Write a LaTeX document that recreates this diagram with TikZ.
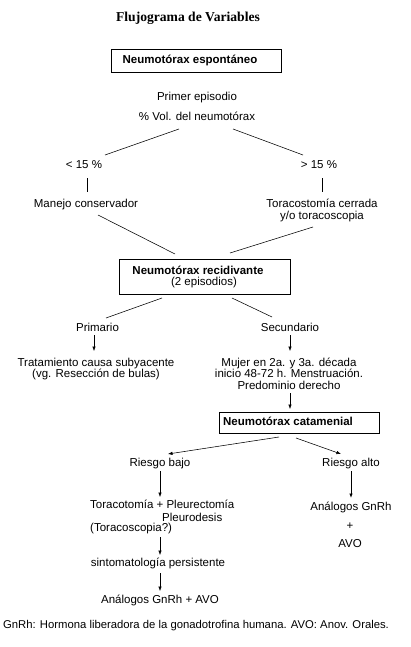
\documentclass[tikz,border=0pt]{standalone}
\usepackage{fontspec}
\setmainfont{Liberation Sans}
\newfontfamily\titlefont{Liberation Serif}
\usetikzlibrary{arrows.meta}
\begin{document}
\begin{tikzpicture}[x=1pt,y=-1pt,
  txt/.style={anchor=base,inner sep=0pt,font=\fontsize{11.5}{12.5}\selectfont,align=center},
  btxt/.style={txt,font=\fontsize{11.5}{12.5}\selectfont\bfseries},
  tight/.style={font=\fontsize{11.5}{11.5}\selectfont},
  boxr/.style={draw,line width=0.8pt},
  ln/.style={line width=0.55pt},
  arr/.style={ln,-{Latex[length=4.5pt,width=3.5pt]}}]
\fill[white] (0,0) rectangle (410,647);
\useasboundingbox (0,0) rectangle (410,647);

% title
\node[anchor=base,inner sep=0pt,font=\fontsize{13.6}{15}\selectfont\titlefont\bfseries] (title) at (188,22) {Flujograma de Variables};

% boxes
\draw[boxr] (111,49) rectangle (281,72);
\node[btxt] (ne) at (190,64) {Neumotórax espontáneo};
\draw[boxr] (119,259) rectangle (290,294);
\node[btxt] (nr) at (198,274) {Neumotórax recidivante};
\node[txt] (ep) at (204,285.5) {(2 episodios)};
\draw[boxr] (219,412) rectangle (379,433);
\node[btxt] (nc) at (288,425) {Neumotórax catamenial};

% texts
\node[txt] (pe) at (197,101) {Primer episodio};
\node[txt] (pv) at (197,121) {\% Vol. del neumotórax};
\node[txt] (lt) at (84,168) {< 15 \%};
\node[txt] (gt) at (319,168) {> 15 \%};
\node[txt] (mc) at (86,207) {Manejo conservador};
\node[txt] (tc) at (322,219.5) {Toracostomía cerrada\\y/o toracoscopia};
\node[txt] (pr) at (97.5,331) {Primario};
\node[txt] (se) at (290,331) {Secundario};
\node[txt,tight] (tr) at (96,377.5) {Tratamiento causa subyacente\\(vg. Resección de bulas)};
\node[txt,tight] (mu) at (289,389) {Mujer en 2a. y 3a. década\\inicio 48-72 h. Menstruación.\\Predominio derecho};
\node[txt] (rb) at (160,466) {Riesgo bajo};
\node[txt] (ra) at (351,466) {Riesgo alto};
\node[txt,anchor=base west] (to) at (90,508.7) {Toracotomía + Pleurectomía};
\node[txt,anchor=base west] (pl) at (162,521) {Pleurodesis};
\node[txt,anchor=base west] (tq) at (90,531.7) {(Toracoscopia?)};
\node[txt] (an) at (351,510.7) {Análogos GnRh};
\node[txt] (pl2) at (350,529.5) {+};
\node[txt] (avo) at (350,547.7) {AVO};
\node[txt] (si) at (158,566.7) {sintomatología persistente};
\node[txt] (fa) at (160,603.3) {Análogos GnRh + AVO};
\node[txt,font=\fontsize{11.3}{12.5}\selectfont] (ft) at (196,628.3) {GnRh: Hormona liberadora de la gonadotrofina humana. AVO: Anov. Orales.};

% connector end points
\coordinate (pvL) at (179,129); \coordinate (ltT) at (105,155);
\coordinate (pvR) at (233,129); \coordinate (gtT) at (303,155);
\coordinate (ltB) at (87,178);  \coordinate (mcT) at (87,192);
\coordinate (gtB) at (322,178); \coordinate (tcT) at (322,192);
\coordinate (mcB) at (98,215);  \coordinate (nrL) at (175,254);
\coordinate (tcB) at (313,227); \coordinate (nrR) at (230,253);
\coordinate (nrBL) at (162,298); \coordinate (prT) at (106,318);
\coordinate (nrBR) at (232,298); \coordinate (seT) at (272,317);
\coordinate (prB) at (94,335);  \coordinate (trT) at (94,351);
\coordinate (seB) at (290,335); \coordinate (muT) at (290,351);
\coordinate (pdB) at (290,393); \coordinate (ncT) at (290,409);
\coordinate (ncBL) at (279,437); \coordinate (rbT) at (168,454);
\coordinate (ncBR) at (296,438); \coordinate (raT) at (341,454);
\coordinate (rbB) at (160,471); \coordinate (toT) at (160,497);
\coordinate (raB) at (351,471); \coordinate (anT) at (351,498);
\coordinate (tqB) at (160,537); \coordinate (siT) at (160,555);
\coordinate (siB) at (160,573); \coordinate (faT) at (160,591);

\draw[ln] (pvL) -- (ltT);
\draw[ln] (pvR) -- (gtT);
\draw[ln] (ltB) -- (mcT);
\draw[ln] (gtB) -- (tcT);
\draw[ln] (mcB) -- (nrL);
\draw[ln] (tcB) -- (nrR);
\draw[ln] (nrBL) -- (prT);
\draw[ln] (nrBR) -- (seT);
\draw[arr] (prB) -- (trT);
\draw[arr] (seB) -- (muT);
\draw[arr] (pdB) -- (ncT);
\draw[arr] (ncBL) -- (rbT);
\draw[arr] (ncBR) -- (raT);
\draw[arr] (rbB) -- (toT);
\draw[arr,line width=0.8pt] (raB) -- (anT);
\draw[arr] (tqB) -- (siT);
\draw[arr] (siB) -- (faT);
\end{tikzpicture}
\end{document}
